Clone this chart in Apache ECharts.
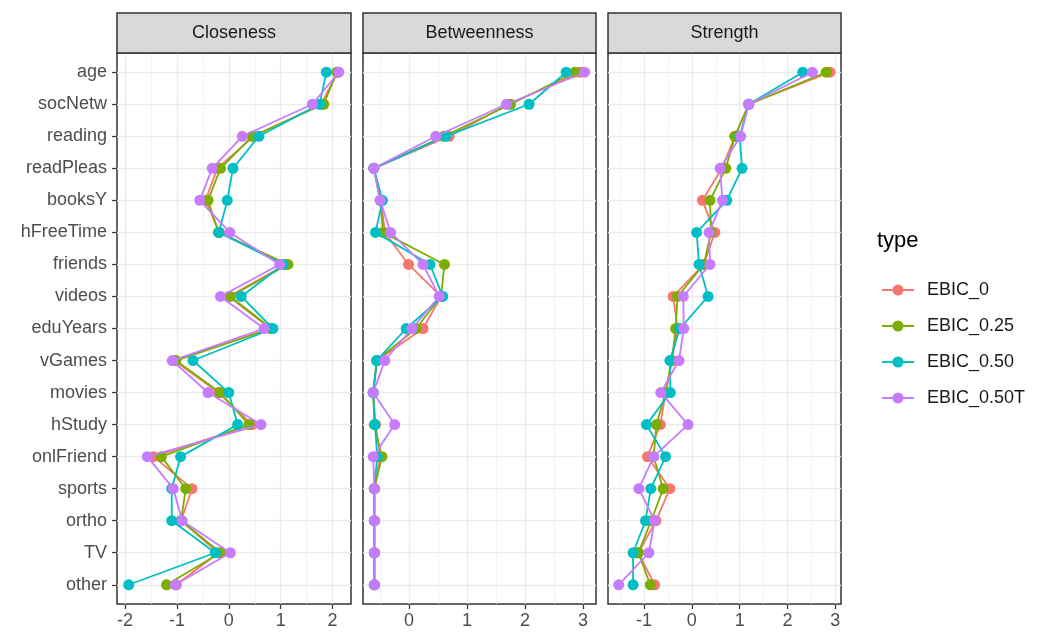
<!DOCTYPE html>
<html><head><meta charset="utf-8">
<script src="https://cdn.jsdelivr.net/npm/echarts@6/dist/echarts.min.js"></script>
<style>html,body{margin:0;padding:0;background:#fff}#c{width:1041px;height:632px}</style>
</head><body><div id="c"></div>
<script>
// ---------- data ----------
const categories = ['age','socNetw','reading','readPleas','booksY','hFreeTime','friends','videos','eduYears','vGames','movies','hStudy','onlFriend','sports','ortho','TV','other'];
const typeNames = ['EBIC_0','EBIC_0.25','EBIC_0.50','EBIC_0.50T'];
const typeColors = ['#F8766D','#7CAE00','#00BFC4','#C77CFF'];
const panelTitles = ['Closeness','Betweenness','Strength'];

const closeness_EBIC_0    = [2.10, 1.78, 0.48, -0.22, -0.45, -0.18, 1.10, 0.00, 0.80, -1.05, -0.20, 0.45, -1.45, -0.71, -0.92, -0.20, -1.01];
const closeness_EBIC_025  = [2.08, 1.83, 0.45, -0.16, -0.40, -0.20, 1.14, 0.03, 0.82, -1.02, -0.17, 0.39, -1.30, -0.83, -0.92, -0.16, -1.20];
const closeness_EBIC_050  = [1.88, 1.75, 0.58, 0.08, -0.03, -0.19, 1.05, 0.24, 0.85, -0.69, 0.00, 0.17, -0.93, -1.10, -1.10, -0.26, -1.93];
const closeness_EBIC_050T = [2.12, 1.61, 0.26, -0.32, -0.56, 0.02, 0.98, -0.16, 0.68, -1.09, -0.40, 0.62, -1.57, -1.07, -0.90, 0.03, -1.03];

const betweenness_EBIC_0    = [2.95, 1.72, 0.69, -0.61, -0.48, -0.42, -0.01, 0.55, 0.24, -0.55, -0.62, -0.58, -0.50, -0.60, -0.60, -0.60, -0.60];
const betweenness_EBIC_025  = [2.86, 1.75, 0.60, -0.61, -0.50, -0.45, 0.61, 0.55, 0.12, -0.56, -0.62, -0.60, -0.47, -0.60, -0.60, -0.60, -0.60];
const betweenness_EBIC_050  = [2.71, 2.07, 0.63, -0.61, -0.46, -0.58, 0.36, 0.58, -0.05, -0.56, -0.62, -0.59, -0.55, -0.60, -0.60, -0.60, -0.60];
const betweenness_EBIC_050T = [3.03, 1.68, 0.46, -0.61, -0.50, -0.32, 0.24, 0.52, 0.05, -0.42, -0.62, -0.25, -0.62, -0.60, -0.60, -0.60, -0.60];

const strength_EBIC_0    = [2.89, 1.19, 0.90, 0.63, 0.22, 0.48, 0.25, -0.39, -0.30, -0.42, -0.55, -0.66, -0.93, -0.46, -0.75, -1.12, -0.78];
const strength_EBIC_025  = [2.81, 1.19, 0.90, 0.71, 0.38, 0.40, 0.25, -0.30, -0.34, -0.42, -0.55, -0.74, -0.80, -0.60, -0.85, -1.12, -0.87];
const strength_EBIC_050  = [2.32, 1.19, 1.00, 1.05, 0.73, 0.10, 0.15, 0.34, -0.25, -0.46, -0.45, -0.95, -0.55, -0.86, -0.97, -1.23, -1.23];
const strength_EBIC_050T = [2.52, 1.19, 1.02, 0.59, 0.64, 0.36, 0.38, -0.18, -0.17, -0.27, -0.65, -0.08, -0.80, -1.11, -0.78, -0.90, -1.53];

const xTicks_closeness   = [-2, -1, 0, 1, 2];
const xMinor_closeness   = [-1.5, -0.5, 0.5, 1.5];
const xTicks_betweenness = [0, 1, 2, 3];
const xMinor_betweenness = [-0.5, 0.5, 1.5, 2.5];
const xTicks_strength    = [-1, 0, 1, 2, 3];
const xMinor_strength    = [-1.5, -0.5, 0.5, 1.5, 2.5];

const xRange_closeness   = [-2.155, 2.355];
const xRange_betweenness = [-0.796, 3.225];
const xRange_strength    = [-1.755, 3.12];

// ---------- build ----------
const panelData = [
  [closeness_EBIC_0, closeness_EBIC_025, closeness_EBIC_050, closeness_EBIC_050T],
  [betweenness_EBIC_0, betweenness_EBIC_025, betweenness_EBIC_050, betweenness_EBIC_050T],
  [strength_EBIC_0, strength_EBIC_025, strength_EBIC_050, strength_EBIC_050T]
];
const panelTicks = [xTicks_closeness, xTicks_betweenness, xTicks_strength];
const panelMinor = [xMinor_closeness, xMinor_betweenness, xMinor_strength];
const panelRange = [xRange_closeness, xRange_betweenness, xRange_strength];

const FONT = "'Liberation Sans', Arial, Helvetica, sans-serif";
const layout = [{left: 117, width: 234}, {left: 363, width: 233}, {left: 608, width: 233}];
const TOP = 53, HEIGHT = 551, STRIP_TOP = 13;
const catIdx = categories.map((c, i) => i);

const grids = [], xAxes = [], yAxes = [], series = [], graphics = [];
layout.forEach((L, p) => {
  grids.push({left: L.left, top: TOP, width: L.width, height: HEIGHT, show: true,
    borderColor: '#333333', borderWidth: 1.5, backgroundColor: 'transparent', containLabel: false});
  xAxes.push({type: 'value', gridIndex: p, position: 'bottom', min: panelRange[p][0], max: panelRange[p][1],
    axisLine: {show: false, onZero: false},
    axisTick: {show: true, customValues: panelTicks[p], length: 5, lineStyle: {color: '#333333', width: 1.2}},
    axisLabel: {show: true, customValues: panelTicks[p], fontSize: 18, color: '#4D4D4D', fontFamily: FONT, margin: 8},
    splitLine: {show: true, lineStyle: {color: '#EBEBEB', width: 1.3}}
  });
  xAxes.push({type: 'value', gridIndex: p, position: 'bottom', min: panelRange[p][0], max: panelRange[p][1],
    axisLine: {show: false, onZero: false},
    axisTick: {show: false, customValues: panelMinor[p]},
    axisLabel: {show: false},
    splitLine: {show: true, lineStyle: {color: '#EFEFEF', width: 0.8}}
  });
  yAxes.push({type: 'value', gridIndex: p, position: 'left', inverse: true, min: -0.6, max: categories.length - 1 + 0.6,
    axisLine: {show: false, onZero: false},
    axisTick: {show: p === 0, customValues: catIdx, length: 5, lineStyle: {color: '#333333', width: 1.2}},
    axisLabel: {show: p === 0, customValues: catIdx, fontSize: 18, color: '#4D4D4D', fontFamily: FONT, margin: 10,
      formatter: v => categories[Math.round(v)]},
    splitLine: {show: true, lineStyle: {color: '#EBEBEB', width: 1.3}}
  });
  panelData[p].forEach((vals, t) => {
    series.push({type: 'line', name: typeNames[t], xAxisIndex: 2 * p, yAxisIndex: p,
      data: vals.map((v, i) => [v, i]),
      symbol: 'circle', symbolSize: 11, showSymbol: true,
      lineStyle: {width: 1.8, color: typeColors[t]},
      itemStyle: {color: typeColors[t]},
      emphasis: {disabled: true}, animation: false, z: 2 + t
    });
  });
  graphics.push({type: 'rect', shape: {x: L.left, y: STRIP_TOP, width: L.width, height: TOP - STRIP_TOP},
    style: {fill: '#D9D9D9', stroke: '#333333', lineWidth: 1.5}, z: 10});
  graphics.push({type: 'text', x: L.left + L.width / 2, y: (STRIP_TOP + TOP) / 2,
    style: {text: panelTitles[p], fill: '#1A1A1A', font: '18px ' + FONT, textAlign: 'center', textVerticalAlign: 'middle'}, z: 11});
});

const chart = echarts.init(document.getElementById('c'), null, {renderer: 'canvas'});
chart.setOption({
  backgroundColor: '#ffffff',
  animation: false,
  color: typeColors,
  title: {text: 'type', left: 877, top: 230, padding: 0,
    textStyle: {fontSize: 22, fontWeight: 'normal', color: '#000000', fontFamily: FONT}},
  legend: {data: typeNames, orient: 'vertical', left: 881, top: 281, padding: 0,
    itemWidth: 32, itemHeight: 14, itemGap: 18,
    textStyle: {fontSize: 18, color: '#1A1A1A', fontFamily: FONT, padding: [0, 0, 0, 8]},
    selectedMode: false},
  grid: grids, xAxis: xAxes, yAxis: yAxes, series: series,
  graphic: graphics
});
</script></body></html>
